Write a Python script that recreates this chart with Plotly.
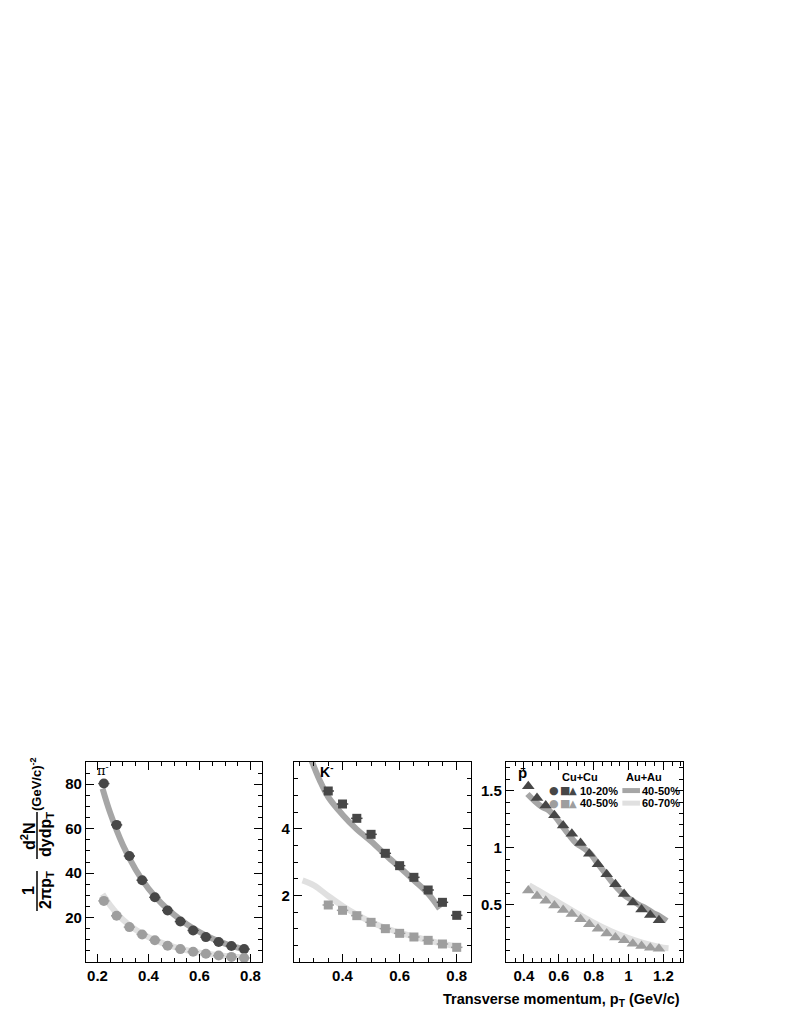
import plotly.graph_objects as go

# ---- data ----
# pi- (Cu+Cu, circles)
pi_pt = [0.225, 0.275, 0.325, 0.375, 0.425, 0.475, 0.525, 0.575, 0.625, 0.675, 0.725, 0.775]
pi_cu_1020 = [80.3, 61.7, 47.7, 36.8, 29.1, 23.2, 18.2, 14.2, 11.2, 9.0, 7.2, 5.8]
pi_cu_4050 = [27.5, 20.8, 15.7, 12.4, 9.8, 7.3, 5.8, 4.6, 3.7, 2.9, 2.3, 1.8]
# pi- (Au+Au curves)
pi_au_x = [0.22, 0.25, 0.30, 0.35, 0.40, 0.45, 0.50, 0.55, 0.60, 0.65, 0.70, 0.75, 0.78]
pi_au_4050 = [78.0, 67.0, 52.5, 41.5, 33.0, 26.5, 21.3, 17.0, 13.5, 10.6, 8.3, 6.5, 5.5]
pi_au_6070 = [30.5, 25.5, 19.0, 14.5, 11.2, 8.7, 6.8, 5.3, 4.2, 3.4, 2.7, 2.2, 1.9]

# K- (Cu+Cu, squares)
k_pt = [0.35, 0.40, 0.45, 0.50, 0.55, 0.60, 0.65, 0.70, 0.75, 0.80]
k_cu_1020 = [5.13, 4.74, 4.31, 3.83, 3.26, 2.89, 2.54, 2.16, 1.79, 1.40]
k_cu_4050 = [1.71, 1.55, 1.39, 1.19, 1.00, 0.86, 0.75, 0.65, 0.54, 0.44]
# K- (Au+Au curves)
k_au_4050_x = [0.28, 0.32, 0.35, 0.40, 0.45, 0.50, 0.55, 0.60, 0.65, 0.70, 0.74]
k_au_4050 = [6.3, 5.45, 4.95, 4.42, 3.98, 3.62, 3.22, 2.84, 2.45, 2.05, 1.6]
k_au_6070_x = [0.26, 0.30, 0.35, 0.40, 0.45, 0.50, 0.55, 0.60, 0.65, 0.70, 0.75, 0.80]
k_au_6070 = [2.45, 2.3, 1.98, 1.68, 1.42, 1.2, 1.02, 0.88, 0.76, 0.65, 0.55, 0.46]

# anti-proton (Cu+Cu, triangles)
p_pt = [0.425, 0.475, 0.525, 0.575, 0.625, 0.675, 0.725, 0.775,
        0.825, 0.875, 0.925, 0.975, 1.025, 1.075, 1.125, 1.175]
p_cu_1020 = [1.538, 1.436, 1.369, 1.285, 1.195, 1.122, 1.041, 0.948,
             0.855, 0.768, 0.680, 0.594, 0.520, 0.460, 0.412, 0.365]
p_cu_4050 = [0.625, 0.578, 0.535, 0.495, 0.455, 0.420, 0.375, 0.330,
             0.290, 0.250, 0.215, 0.190, 0.160, 0.140, 0.125, 0.115]
# anti-proton (Au+Au curves)
p_au_4050_x = [0.42, 0.46, 0.50, 0.54, 0.58, 0.62, 0.66, 0.70, 0.74, 0.78, 0.82,
               0.86, 0.90, 0.94, 0.98, 1.02, 1.06, 1.10, 1.14, 1.18, 1.22]
p_au_4050 = [1.47, 1.41, 1.36, 1.33, 1.27, 1.19, 1.11, 1.04, 1.00, 0.95, 0.87,
             0.79, 0.71, 0.64, 0.58, 0.54, 0.50, 0.47, 0.43, 0.40, 0.36]
p_au_6070_x = [0.43, 0.50, 0.60, 0.70, 0.80, 0.90, 1.00, 1.10, 1.20, 1.23]
p_au_6070 = [0.67, 0.61, 0.52, 0.43, 0.345, 0.27, 0.21, 0.16, 0.125, 0.12]

pi_xerr = 0.022
k_xerr = 0.02
p_xerr = 0.0

dark = '#474747'
light = '#9e9e9e'
au_mid = '#a6a6a6'
au_light = '#e0e0e0'
font = 'Liberation Sans, Arial, sans-serif'

# page is 789x1021, body has an 8px margin -> figure is a bit smaller and shifted
OFF = 8
W, H = 789 - 2 * OFF, 1021 - 2 * OFF
fig = go.Figure()


def curve(x, y, color, ax):
    fig.add_trace(go.Scatter(x=x, y=y, mode='lines', line=dict(color=color, width=6, shape='spline'),
                             xaxis='x' + ax, yaxis='y' + ax, showlegend=False, hoverinfo='skip'))


def points(x, y, color, symbol, size, xerr, ax):
    fig.add_trace(go.Scatter(x=x, y=y, mode='markers',
                             marker=dict(color=color, symbol=symbol, size=size, line_width=0),
                             error_x=dict(type='constant', value=xerr, color=color, thickness=1.5, width=0,
                                          visible=xerr > 0),
                             xaxis='x' + ax, yaxis='y' + ax, showlegend=False))


curve(pi_au_x, pi_au_4050, au_mid, '')
curve(pi_au_x, pi_au_6070, au_light, '')
points(pi_pt, pi_cu_1020, dark, 'circle', 10, pi_xerr, '')
points(pi_pt, pi_cu_4050, light, 'circle', 10, pi_xerr, '')

curve(k_au_4050_x, k_au_4050, au_mid, '2')
curve(k_au_6070_x, k_au_6070, au_light, '2')
points(k_pt, k_cu_1020, dark, 'square', 9, k_xerr, '2')
points(k_pt, k_cu_4050, light, 'square', 9, k_xerr, '2')

curve(p_au_4050_x, p_au_4050, au_mid, '3')
curve(p_au_6070_x, p_au_6070, au_light, '3')
points(p_pt, p_cu_1020, dark, 'triangle-up', 11, p_xerr, '3')
points(p_pt, p_cu_4050, light, 'triangle-up', 11, p_xerr, '3')


def px(xp, yp):
    # absolute page pixel -> paper coords
    return (xp - OFF) / W, 1 - (yp - OFF) / H


def xdom(a, b):
    return [px(a, 0)[0], px(b, 0)[0]]


ydom = [px(0, 962)[1], px(0, 762)[1]]

axis_common = dict(showline=True, linecolor='black', linewidth=1.2, mirror='allticks',
                   ticks='inside', ticklen=8, tickwidth=1, tickcolor='black',
                   showgrid=False, zeroline=False,
                   tickfont=dict(family=font, size=15, color='black', weight='bold'))


def xaxis(dom, rng, vals, texts, minor, anchor):
    return dict(domain=dom, range=rng, tickvals=vals, ticktext=texts, anchor=anchor,
                minor=dict(dtick=minor, tick0=0, ticks='inside', ticklen=4, tickcolor='black'),
                **axis_common)


def yaxis(rng, vals, texts, minor, anchor):
    return dict(domain=ydom, range=rng, tickvals=vals, ticktext=texts, anchor=anchor,
                minor=dict(dtick=minor, tick0=0, ticks='inside', ticklen=4, tickcolor='black'),
                **axis_common)


fig.update_layout(
    width=W, height=H, margin=dict(l=0, r=0, t=0, b=0),
    plot_bgcolor='white', paper_bgcolor='white', showlegend=False,
    xaxis=xaxis(xdom(86, 262), [0.155, 0.845], [0.2, 0.4, 0.6, 0.8], ['0.2', '0.4', '0.6', '0.8'], 0.05, 'y'),
    yaxis=yaxis([0, 90], [20, 40, 60, 80], ['20', '40', '60', '80'], 5, 'x'),
    xaxis2=xaxis(xdom(294, 471), [0.23, 0.85], [0.4, 0.6, 0.8], ['0.4', '0.6', '0.8'], 0.05, 'y2'),
    yaxis2=yaxis([0, 6], [2, 4], ['2', '4'], 0.5, 'x2'),
    xaxis3=xaxis(xdom(506, 683), [0.297, 1.313], [0.4, 0.6, 0.8, 1.0, 1.2], ['0.4', '0.6', '0.8', '1', '1.2'], 0.05, 'y3'),
    yaxis3=yaxis([0, 1.75], [0.5, 1.0, 1.5], ['0.5', '1', '1.5'], 0.1, 'x3'),
)

ann = []


def txt(x, y, s, size, xref='paper', yref='paper', angle=0, xanchor='center', yanchor='middle',
        bold=True, fam=font, color='black'):
    ann.append(dict(x=x, y=y, xref=xref, yref=yref, text=s, showarrow=False, textangle=angle,
                    xanchor=xanchor, yanchor=yanchor,
                    font=dict(family=fam, size=size, color=color, weight='bold' if bold else 'normal')))


# panel labels
txt(0.222, 86.5, 'π<sup>-</sup>', 13, 'x', 'y', bold=False, fam='DejaVu Serif, serif')
txt(0.343, 5.72, 'K<sup>-</sup>', 14, 'x2', 'y2')
txt(0.39, 1.655, 'p\u0304', 15, 'x3', 'y3')

# legend in panel 3
txt(0.72, 1.62, 'Cu+Cu', 11, 'x3', 'y3')
txt(1.09, 1.62, 'Au+Au', 11, 'x3', 'y3')
for yy, col, lab in [(1.50, dark, '10-20%'), (1.39, light, '40-50%')]:
    txt(0.572, yy, '●', 11, 'x3', 'y3', color=col, fam='DejaVu Sans')
    txt(0.637, yy, '■', 11, 'x3', 'y3', color=col, fam='DejaVu Sans')
    txt(0.682, yy, '▲', 10, 'x3', 'y3', color=col, fam='DejaVu Sans')
    txt(0.708, yy, lab, 11, 'x3', 'y3', xanchor='left')
txt(1.069, 1.50, '40-50%', 11, 'x3', 'y3', xanchor='left')
txt(1.069, 1.39, '60-70%', 11, 'x3', 'y3', xanchor='left')
shapes = [
    dict(type='line', xref='x3', yref='y3', x0=0.965, x1=1.066, y0=1.50, y1=1.50, line=dict(color=au_mid, width=5)),
    dict(type='line', xref='x3', yref='y3', x0=0.965, x1=1.066, y0=1.39, y1=1.39, line=dict(color=au_light, width=5)),
]

# y-axis title (fractions rotated)
x1, y1 = px(28, 891)
txt(x1, y1, '1', 16, angle=-90)
x1, y1 = px(46, 890)
txt(x1, y1, '2πp<sub>T</sub>', 16, angle=-90)
x1, y1 = px(28, 836)
txt(x1, y1, 'd<sup>2</sup>N', 16, angle=-90)
x1, y1 = px(46, 835)
txt(x1, y1, 'dydp<sub>T</sub>', 16, angle=-90)
x1, y1 = px(36, 784)
txt(x1, y1, '(GeV/c)<sup>-2</sup>', 13, angle=-90)
for yy0, yy1 in [(871, 911), (812, 859)]:
    xa, ya = px(37, yy0)
    xb, yb = px(37, yy1)
    shapes.append(dict(type='line', xref='paper', yref='paper', x0=xa, x1=xb,
                       y0=ya, y1=yb, line=dict(color='black', width=1.5)))

# x-axis title
x1, y1 = px(682, 1000)
txt(x1, y1, 'Transverse momentum, p<sub>T</sub> (GeV/c)', 14.5, xanchor='right')

fig.update_layout(annotations=ann, shapes=shapes)

fig.write_html("out.html")
